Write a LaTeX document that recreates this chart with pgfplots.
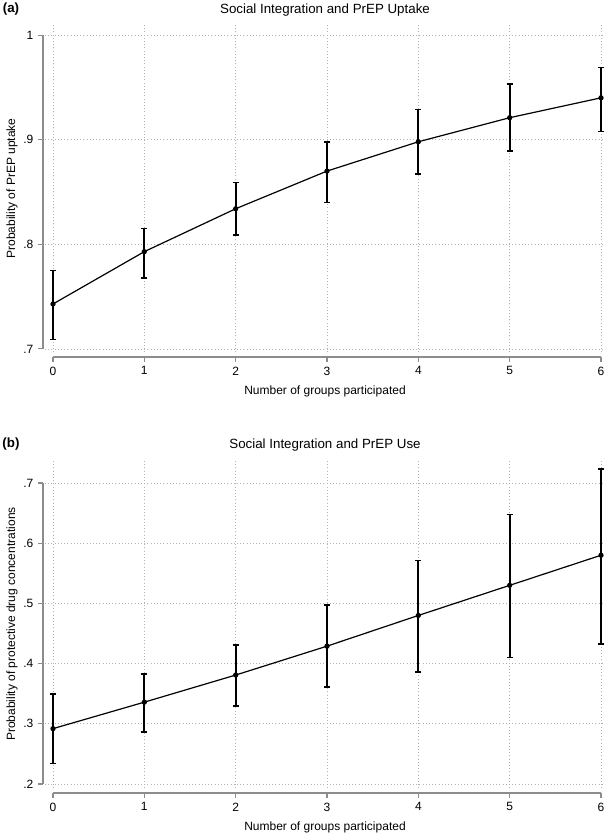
\documentclass[border=0pt]{standalone}
\usepackage{pgfplots}
\usepackage{pgfplotstable}
\pgfplotsset{compat=1.18}
\usepackage{fontspec}
\setmainfont{Liberation Sans}

\pgfplotstableread{
x y lo hi
0 0.743 0.709 0.775
1 0.793 0.768 0.815
2 0.834 0.809 0.859
3 0.870 0.840 0.898
4 0.898 0.867 0.929
5 0.921 0.889 0.953
6 0.940 0.908 0.969
}\uptaketab

\pgfplotstableread{
x y lo hi
0 0.292 0.234 0.350
1 0.336 0.286 0.383
2 0.381 0.330 0.431
3 0.429 0.361 0.497
4 0.480 0.386 0.571
5 0.530 0.410 0.648
6 0.580 0.433 0.723
}\usetab

\pgfplotsset{
  stata/.style={
    scale only axis, width=420pt,
    xmin=-0.0876, xmax=6.0438,
    axis x line*=bottom, axis y line*=left,
    axis x line shift=3.75pt, axis y line shift=1.5pt,
    axis line style={draw=none},
    tick align=outside, major tick length=3.75pt,
    every tick/.style={black!45, line width=0.8pt},
    xtick={0,...,6},
    grid=major, major grid style={black!30, dotted, line width=0.6pt},
    tick label style={font=\fontsize{9}{10}\selectfont},
    every axis title shift=0pt,
    title style={font=\fontsize{10}{12}\selectfont, at={(rel axis cs:0.5,1)}, anchor=base, yshift=8.5pt},
    xlabel={Number of groups participated},
    every axis x label/.style={at={(axis description cs:0.5,0)}, anchor=center, yshift=-29.6pt, font=\fontsize{9}{11}\selectfont},
    every axis y label/.style={at={(axis description cs:-0.0589,0.5)}, anchor=center, rotate=90, font=\fontsize{9}{11}\selectfont},
    /pgf/number format/assume math mode=true,
    clip=false,
  },
  ebars/.style={
    black, line width=0.9pt, mark=*, mark size=1.5pt, mark options={fill=black, draw=black},
    error bars/.cd, y dir=both, y explicit,
    error bar style={line width=1.3pt, black},
    error mark options={rotate=90, mark size=2.25pt, line width=1.2pt, black},
  },
}

\begin{document}
\begin{tikzpicture}
\useasboundingbox (-33.75pt,-363.75pt) rectangle (424.5pt,264pt);
\begin{axis}[stata,
  at={(0,0)}, anchor=south west,
  height=245.25pt,
  ymin=0.6971, ymax=1.0096,
  ytick={0.7,0.8,0.9,1}, yticklabels={.7,.8,.9,1},
  title={Social Integration and PrEP Uptake},
  ylabel={Probability of PrEP uptake},
]
\addplot+[ebars] table[x=x, y=y, y error plus expr=\thisrow{hi}-\thisrow{y}, y error minus expr=\thisrow{y}-\thisrow{lo}] {\uptaketab};
\draw[black!45, line width=1pt] ([xshift=-1.5pt]axis cs:-0.0876,0.7) -- ([xshift=-1.5pt]axis cs:-0.0876,1);
\draw[black!45, line width=1pt] ([yshift=-3.75pt]axis cs:0,0.6971) -- ([yshift=-3.75pt]axis cs:6,0.6971);
\node[anchor=base, font=\bfseries\fontsize{10}{12}\selectfont, xshift=-25.5pt, yshift=9.5pt] at (rel axis cs:0,1) {(a)};
\end{axis}

\begin{axis}[stata,
  at={(0,-327pt)}, anchor=south west,
  height=246pt,
  ymin=0.1934, ymax=0.7382,
  ytick={0.2,0.3,0.4,0.5,0.6,0.7}, yticklabels={.2,.3,.4,.5,.6,.7},
  title={Social Integration and PrEP Use},
  ylabel={Probability of protective drug concentrations},
]
\addplot+[ebars] table[x=x, y=y, y error plus expr=\thisrow{hi}-\thisrow{y}, y error minus expr=\thisrow{y}-\thisrow{lo}] {\usetab};
\draw[black!45, line width=1pt] ([xshift=-1.5pt]axis cs:-0.0876,0.2) -- ([xshift=-1.5pt]axis cs:-0.0876,0.7);
\draw[black!45, line width=1pt] ([yshift=-3.75pt]axis cs:0,0.1934) -- ([yshift=-3.75pt]axis cs:6,0.1934);
\node[anchor=base, font=\bfseries\fontsize{10}{12}\selectfont, xshift=-25.5pt, yshift=9.5pt] at (rel axis cs:0,1) {(b)};
\end{axis}
\end{tikzpicture}
\end{document}
